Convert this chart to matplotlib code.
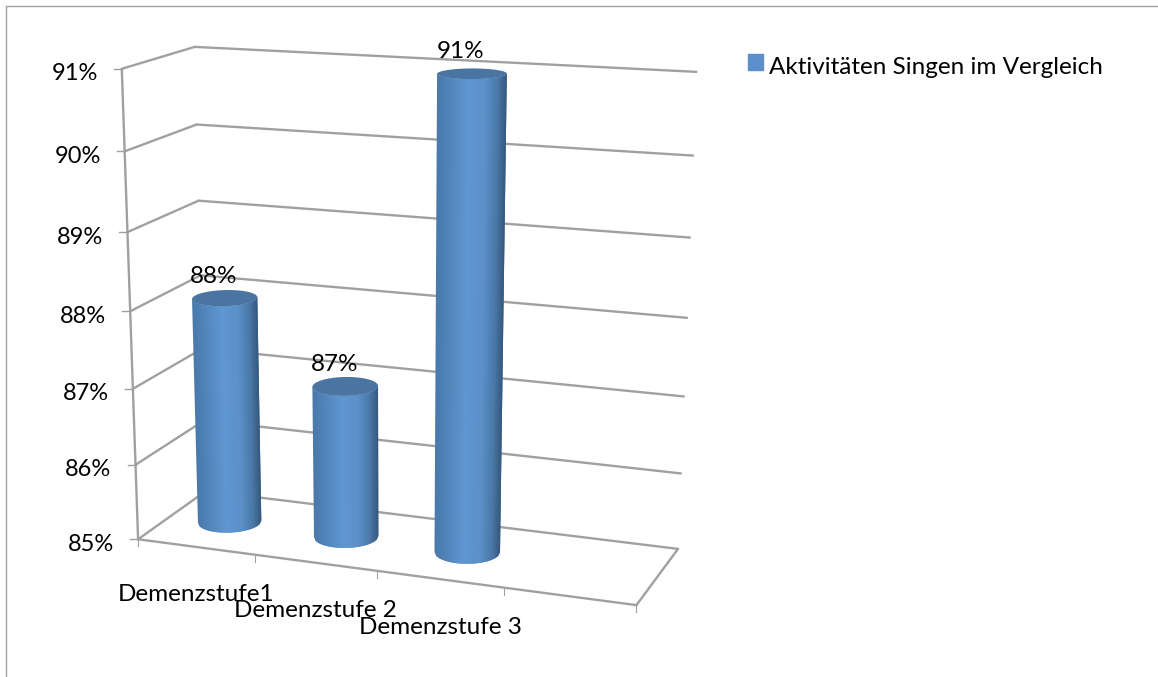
import numpy as np
import matplotlib
matplotlib.use('Agg')
import matplotlib.pyplot as plt
from matplotlib.colors import LinearSegmentedColormap
from matplotlib.patches import Patch

categories = ['Demenzstufe1', 'Demenzstufe 2', 'Demenzstufe 3']
values = [88, 87, 91]
value_ticks = [85, 86, 87, 88, 89, 90, 91]
series_name = 'Aktivitäten Singen im Vergleich'

# pixel anchors of the 3d box, used to fit the camera
front_left = [(138, 539), (136, 464), (133, 388), (130, 311), (128, 232), (125, 151), (122, 69)]
back_left = [(207, 491), (204, 421), (202, 350), (200, 276), (198, 200), (196, 124), (195, 47)]
back_right = [(678, 547), (681, 473), (684, 396), (688, 318), (690, 238), (693, 156), (696, 72)]
front_floor = [(255, 555), (378, 572), (502, 588), (637, 606)]

GREY = '#a0a0a0'
FONT = 'Lato'
FS = 17.5
SLOTS = 4
RX = 0.25
RY = 0.21


def fit_camera():
    rows = []
    pairs = []
    for i, z in enumerate(value_ticks):
        pairs.append(((0, 0, z - 85), front_left[i]))
        pairs.append(((0, 1, z - 85), back_left[i]))
        pairs.append(((SLOTS, 1, z - 85), back_right[i]))
    for i, p in enumerate(front_floor):
        pairs.append(((i + 1, 0, 0), p))
    for (x, y, z), (u, v) in pairs:
        rows.append([x, y, z, 1, 0, 0, 0, 0, -u * x, -u * y, -u * z, -u])
        rows.append([0, 0, 0, 0, x, y, z, 1, -v * x, -v * y, -v * z, -v])
    return np.linalg.svd(np.array(rows, dtype=float))[2][-1].reshape(3, 4)


cam = fit_camera()


def project(x, y, value):
    x, y, value = np.broadcast_arrays(x, y, value)
    pts = np.stack([x, y, value - 85, np.ones_like(x, dtype=float)])
    u, v, w = cam @ pts
    return u / w, v / w


def front_arc(cx, val, n=41):
    # front half of a rim, from its leftmost to its rightmost point on screen
    t = np.linspace(np.pi / 2, 5 * np.pi / 2, 720)
    x, _ = project(cx + RX * np.cos(t), 0.5 + RY * np.sin(t), val)
    left, right = t[np.argmin(x)], t[np.argmax(x)]
    a = left + (right - left) * np.arccos(np.linspace(1, -1, n)) / np.pi
    return project(cx + RX * np.cos(a), 0.5 + RY * np.sin(a), val)


fig = plt.figure(figsize=(11.58, 6.77), dpi=100)
ax = fig.add_axes([0, 0, 1, 1])
ax.set_xlim(0, 1158)
ax.set_ylim(677, 0)
ax.axis('off')

# outer frame, only top and left are visible
ax.plot([6, 6, 1158], [677, 6, 6], color=GREY, lw=1.0)


def line(a, b, lw=1.7):
    xs, ys = project(*np.array([a, b]).T)
    ax.plot(xs, ys, color=GREY, lw=lw, solid_capstyle='round', zorder=2)


# walls and floor
for v in value_ticks:
    line((0, 0, v), (0, 1, v))
    line((0, 1, v), (SLOTS, 1, v))
    px, py = project(0, 0, v)
    ax.plot([px - 8, px], [py, py], color=GREY, lw=1.0, zorder=2)
    ax.text(px - 24, py + 5, f'{v}%', ha='right', va='center', fontsize=17, family=FONT, color='black')
line((0, 0, 85), (0, 0, 91))
line((0, 0, 85), (SLOTS, 0, 85))
line((SLOTS, 0, 85), (SLOTS, 1, 85))
for i in range(SLOTS + 1):
    px, py = project(i, 0, 85)
    ax.plot([px, px], [py, py + 7], color=GREY, lw=0.8, zorder=2)

shade = LinearSegmentedColormap.from_list('cyl', [(0, '#4a79aa'), (0.15, '#5083b8'), (0.45, '#5f97d1'),
                                                  (0.7, '#5b90c8'), (0.88, '#4a78a8'), (1, '#375b80')])
rim = np.linspace(0, 2 * np.pi, 100)

for i, (name, val) in enumerate(zip(categories, values)):
    cx = i + 0.5
    tx, ty = front_arc(cx, val)
    bx, by = front_arc(cx, 85)
    # each strip overlaps the next one a little, so no seams show
    for k in range(len(tx) - 1):
        end = min(k + 3, len(tx))
        px = np.concatenate([tx[k:end], bx[k:end][::-1]])
        py = np.concatenate([ty[k:end], by[k:end][::-1]])
        ax.fill(px, py, color=shade(k / (len(tx) - 2)), lw=0, zorder=3)
    capx, capy = project(cx + RX * np.cos(rim), 0.5 + RY * np.sin(rim), val)
    ax.fill(capx, capy, color='#4a74a2', lw=0, zorder=4)

    # value label above the cylinder
    mx, my = project(cx, 0.5, val)
    ax.text(mx - 11, my - 22, f'{val}%', ha='center', va='center', fontsize=FS, family=FONT, color='black', zorder=5)

    # category label under the front edge
    fx, fy = project(cx, 0, 85)
    ax.text(fx, fy + 48, name, ha='center', va='center', fontsize=FS, family=FONT, color='black', zorder=5)

leg = ax.legend(handles=[Patch(facecolor='#5b8fc9', edgecolor='#5b8fc9', label=series_name)],
                loc='center left', bbox_to_anchor=(748, 68), bbox_transform=ax.transData,
                frameon=False, handlelength=0.6, handleheight=0.6, handletextpad=0.25,
                borderpad=0, borderaxespad=0, prop={'family': FONT, 'size': FS})
box = leg.get_patches()[0]
box.set_y(box.get_y() + 2.8)

fig.savefig('out.png', dpi=100)
